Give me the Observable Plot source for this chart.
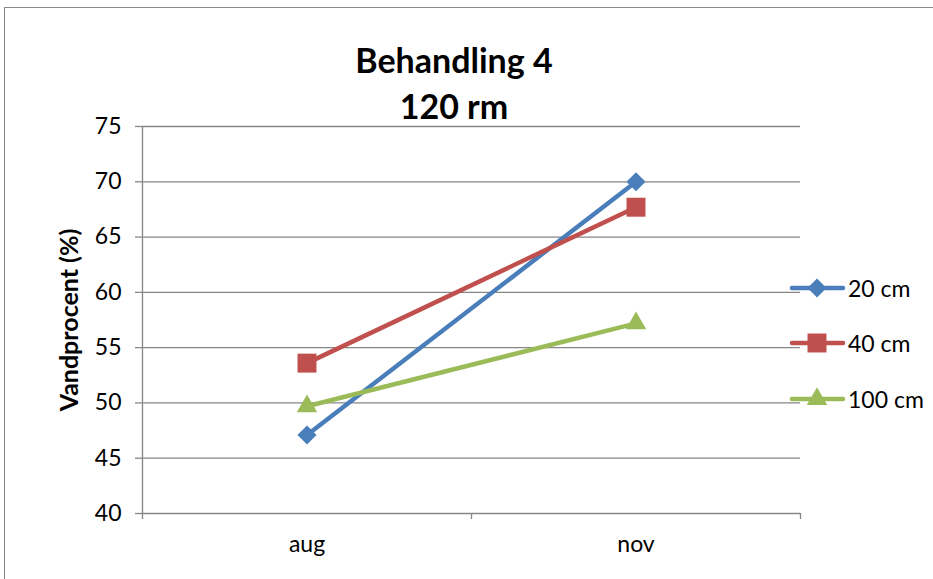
<!DOCTYPE html>
<html>
<head>
<meta charset="utf-8">
<script src="https://cdn.jsdelivr.net/npm/d3@7"></script>
<script src="https://cdn.jsdelivr.net/npm/@observablehq/plot@0.6"></script>
<style>
  html, body { margin: 0; padding: 0; background: #fff; }
  #wrap { position: relative; width: 933px; height: 579px; overflow: hidden; font-family: Lato, "Open Sans", sans-serif; }
  #border { position: absolute; left: 4px; top: 7px; width: 960px; height: 600px; border: 1.5px solid #8a8a8a; box-sizing: border-box; }
  #title { position: absolute; left: 0; width: 908px; top: 37px; text-align: center; font-weight: bold; font-size: 34px; line-height: 46px; color: #000; }
  .leg { position: absolute; left: 789px; height: 24px; display: flex; align-items: center; font-size: 23px; color: #000; }
  .leg svg { display: block; margin-right: 2px; }
  #chart { position: absolute; left: 0; top: 0; }
</style>
</head>
<body>
<div id="wrap">
  <div id="border"></div>
  <div id="chart"></div>
  <div id="title">Behandling 4<br>120 rm</div>
</div>
<script>
const categories = ["aug", "nov"];
const seriesNames = ["20 cm", "40 cm", "100 cm"];
const values20 = [47.1, 70.0];
const values40 = [53.6, 67.7];
const values100 = [49.7, 57.2];
const yTicks = [40, 45, 50, 55, 60, 65, 70, 75];

const colors = ["#4A7EBB", "#C0504D", "#9BBB59"];
const symbols = [d3.symbolDiamond2, d3.symbolSquare, d3.symbolTriangle];
const radii = [8.6, 10.7, 7.6];
const seriesValues = [values20, values40, values100];

const rows = [];
seriesNames.forEach((s, si) => {
  categories.forEach((c, ci) => {
    rows.push({series: s, si, cat: c, idx: ci + 0.5, value: seriesValues[si][ci]});
  });
});

const grid = "#868686";
const marks = [
  Plot.gridY(yTicks, {stroke: grid, strokeOpacity: 1, strokeWidth: 1.3}),
  Plot.axisY(yTicks, {tickSize: 7, tickPadding: 14, stroke: grid, strokeWidth: 1.3, fontSize: 23, fill: "#000", label: null}),
  Plot.ruleX([0], {stroke: grid, strokeWidth: 1.3}),
  Plot.axisX([0, 1, 2], {tickSize: 6, tickFormat: () => "", stroke: grid, strokeWidth: 1.3, label: null}),
  Plot.text(categories, {x: (d, i) => i + 0.5, text: d => d, frameAnchor: "bottom", dy: 38, fontSize: 23, fill: "#000"}),
  Plot.text(["Vandprocent (%)"], {frameAnchor: "left", textAnchor: "middle", rotate: -90, dx: -73, fontSize: 25, fontWeight: "bold", fill: "#000"})
];
seriesNames.forEach((s, si) => {
  const d = rows.filter(r => r.si === si);
  marks.push(Plot.line(d, {x: "idx", y: "value", stroke: colors[si], strokeWidth: 4.5, strokeLinecap: "round"}));
  marks.push(Plot.dot(d, {x: "idx", y: "value", fill: colors[si], stroke: "none", symbol: symbols[si], r: radii[si]}));
});

const chart = Plot.plot({
  width: 933,
  height: 579,
  marginLeft: 142,
  marginRight: 133,
  marginTop: 126,
  marginBottom: 66,
  style: {fontFamily: "Lato, 'Open Sans', sans-serif", background: "transparent", overflow: "visible"},
  x: {domain: [0, 2], axis: null},
  y: {domain: [40, 75], axis: null},
  marks
});
document.getElementById("chart").appendChild(chart);

// legend
const legendY = [288, 343, 399];
seriesNames.forEach((s, si) => {
  const div = document.createElement("div");
  div.className = "leg";
  div.style.top = (legendY[si] - 12) + "px";
  const svg = d3.create("svg").attr("width", 57).attr("height", 24);
  svg.append("line").attr("x1", 3).attr("x2", 54).attr("y1", 12).attr("y2", 12)
    .attr("stroke", colors[si]).attr("stroke-width", 4.5).attr("stroke-linecap", "round");
  svg.append("path").attr("transform", "translate(28,12)")
    .attr("d", d3.symbol(symbols[si], radii[si] * radii[si] * Math.PI)())
    .attr("fill", colors[si]);
  div.appendChild(svg.node());
  const span = document.createElement("span");
  span.textContent = s;
  div.appendChild(span);
  document.getElementById("wrap").appendChild(div);
});
</script>
</body>
</html>
